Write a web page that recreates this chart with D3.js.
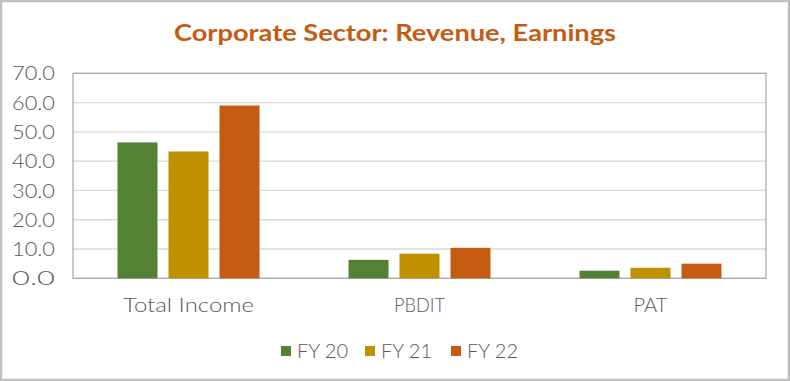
<!DOCTYPE html>
<html><head><meta charset="utf-8">
<script src="https://cdn.jsdelivr.net/npm/d3@7"></script>
<style>html,body{margin:0;padding:0;background:#fff;}svg{display:block;}</style>
</head><body>
<script>
const categories = ["Total Income", "PBDIT", "PAT"];
const seriesNames = ["FY 20", "FY 21", "FY 22"];
const fy20 = [46.4, 6.3, 2.6];
const fy21 = [43.3, 8.4, 3.6];
const fy22 = [59.0, 10.4, 5.0];
const yTicks = [0, 10, 20, 30, 40, 50, 60, 70];
const colors = ["#548235", "#BF9000", "#C55A11"];
const seriesValues = [fy20, fy21, fy22];

const W = 790, H = 381;
const svg = d3.select("body").append("svg").attr("width", W).attr("height", H);
svg.append("rect").attr("x", 1).attr("y", 1).attr("width", W - 2).attr("height", H - 2)
  .attr("fill", "#fff").attr("stroke", "#bfbfbf").attr("stroke-width", 2.5);

const font = "Lato, 'Open Sans', sans-serif";
svg.append("text").attr("x", 395).attr("y", 41).attr("text-anchor", "middle")
  .attr("font-family", font).attr("font-weight", "bold").attr("font-size", 23)
  .attr("fill", "#C55A11").attr("textLength", 442).attr("lengthAdjust", "spacingAndGlyphs")
  .text("Corporate Sector: Revenue, Earnings");

const pLeft = 73, pRight = 766, pTop = 73.3, pBottom = 278.3;
const x0 = d3.scaleBand().domain(categories).range([pLeft, pRight]).padding(0);
const x1 = d3.scaleBand().domain(seriesNames).range([-71, 71]).paddingInner(11 / 51).paddingOuter(0);
const y = d3.scaleLinear().domain([0, 70]).range([pBottom, pTop]);

// gridlines
svg.append("g").selectAll("line").data(yTicks).join("line")
  .attr("x1", pLeft).attr("x2", pRight).attr("y1", d => y(d)).attr("y2", d => y(d))
  .attr("stroke", "#d9d9d9").attr("stroke-width", 1.3);

// plot border
svg.append("rect").attr("x", pLeft).attr("y", pTop).attr("width", pRight - pLeft).attr("height", pBottom - pTop)
  .attr("fill", "none").attr("stroke", "#a6a6a6").attr("stroke-width", 1.2);

// y axis labels
const yAxis = d3.axisLeft(y).tickValues(yTicks).tickFormat(d3.format(".1f")).tickSize(0).tickPadding(0);
const ga = svg.append("g").attr("transform", `translate(55,0)`).call(yAxis);
ga.select(".domain").remove();
ga.selectAll("text").attr("font-family", font).attr("font-weight", 300).attr("font-size", 19)
  .attr("fill", "#595959").attr("dy", "0.35em")
  .attr("textLength", 43).attr("lengthAdjust", "spacingAndGlyphs");

// bars
const groups = svg.append("g").selectAll("g").data(categories).join("g")
  .attr("transform", d => `translate(${x0(d) + x0.bandwidth() / 2},0)`);
groups.selectAll("rect").data((c, i) => seriesNames.map((s, j) => ({s, j, v: seriesValues[j][i]})))
  .join("rect")
  .attr("x", d => x1(d.s)).attr("width", x1.bandwidth())
  .attr("y", d => y(d.v)).attr("height", d => y(0) - y(d.v))
  .attr("fill", d => colors[d.j]);

// x axis labels
const xAxis = d3.axisBottom(x0).tickSize(0).tickPadding(0);
const gx = svg.append("g").attr("transform", `translate(0,305)`).call(xAxis);
gx.select(".domain").remove();
gx.selectAll("text").attr("font-family", font).attr("font-weight", 300).attr("font-size", 19)
  .attr("fill", "#595959").attr("dy", "0.35em")
  .attr("textLength", d => ({"Total Income": 131, "PBDIT": 51, "PAT": 34})[d]).attr("lengthAdjust", "spacingAndGlyphs");

// legend
const legX = [281, 365, 451];
const lg = svg.append("g").selectAll("g").data(seriesNames).join("g")
  .attr("transform", (d, i) => `translate(${legX[i]},351)`);
lg.append("rect").attr("x", 0).attr("y", -5).attr("width", 10).attr("height", 10).attr("fill", (d, i) => colors[i]);
lg.append("text").attr("x", 16).attr("y", 0).attr("dy", "0.35em").attr("font-family", font).attr("font-weight", 300)
  .attr("font-size", 19).attr("fill", "#595959")
  .attr("textLength", 51).attr("lengthAdjust", "spacingAndGlyphs").text(d => d);
</script>
</body></html>
